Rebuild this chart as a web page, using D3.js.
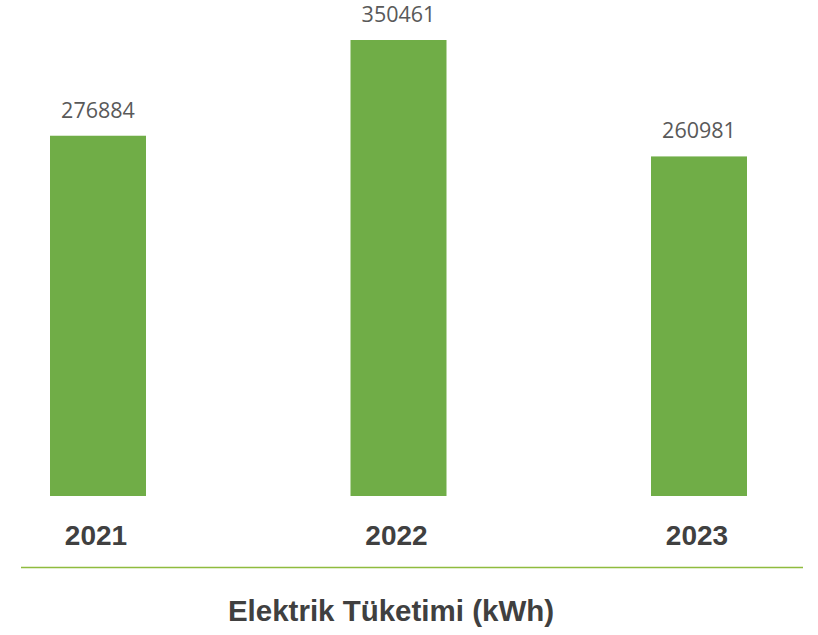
<!DOCTYPE html>
<html>
<head>
<meta charset="utf-8">
<script src="https://cdn.jsdelivr.net/npm/d3@7"></script>
<style>
  html, body { margin: 0; padding: 0; background: #fff; }
  svg { display: block; }
</style>
</head>
<body>
<svg id="chart" width="818" height="635"></svg>
<script>
const years = ["2021", "2022", "2023"];
const consumption = [276884, 350461, 260981];
const chartTitle = "Elektrik Tüketimi (kWh)";

const svg = d3.select("#chart");

const x = d3.scalePoint()
  .domain(years)
  .range([98, 699]);

const barWidth = 96;

const y = d3.scaleLinear()
  .domain([0, 350461])
  .range([496, 40]);

const data = years.map((yr, i) => ({ yr, v: consumption[i] }));
const g = svg.append("g");

g.selectAll("rect.bar")
  .data(data)
  .join("rect")
  .attr("class", "bar")
  .attr("x", d => x(d.yr) - barWidth / 2)
  .attr("width", barWidth)
  .attr("y", d => y(d.v))
  .attr("height", d => y(0) - y(d.v))
  .attr("fill", "#70ad47");

g.selectAll("text.val")
  .data(data)
  .join("text")
  .attr("class", "val")
  .attr("x", d => x(d.yr))
  .attr("y", d => y(d.v) - 18)
  .attr("text-anchor", "middle")
  .attr("font-family", "'Open Sans', sans-serif")
  .attr("font-size", 21.5)
  .attr("fill", "#595959")
  .text(d => d.v);

g.selectAll("text.yr")
  .data(years)
  .join("text")
  .attr("class", "yr")
  .attr("x", d => x(d) - 2)
  .attr("y", 545)
  .attr("text-anchor", "middle")
  .attr("font-family", "'Liberation Sans', Arial, sans-serif")
  .attr("font-weight", "bold")
  .attr("font-size", 28)
  .attr("fill", "#404040")
  .text(d => d);

svg.append("line")
  .attr("x1", 21).attr("x2", 803)
  .attr("y1", 567.5).attr("y2", 567.5)
  .attr("stroke", "#8fbc3f")
  .attr("stroke-width", 1.5);

svg.append("text")
  .attr("x", 391)
  .attr("y", 621)
  .attr("text-anchor", "middle")
  .attr("font-family", "'Liberation Sans', Arial, sans-serif")
  .attr("font-weight", "bold")
  .attr("font-size", 29.5)
  .attr("fill", "#404040")
  .text(chartTitle);
</script>
</body>
</html>
